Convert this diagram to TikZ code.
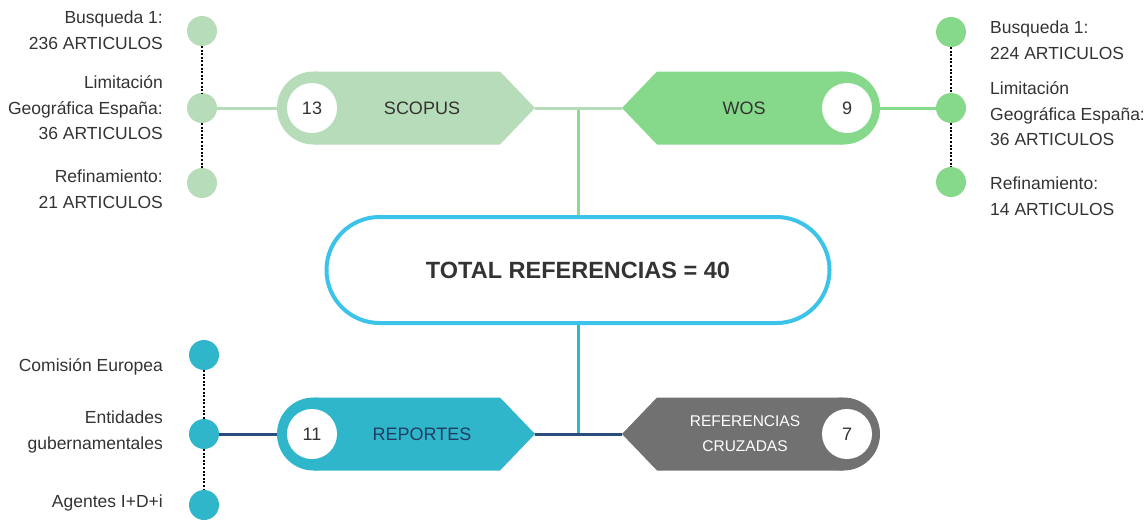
\documentclass[tikz,border=0pt]{standalone}
\usepackage{fontspec}
\setmainfont{Liberation Sans}
\usetikzlibrary{positioning,calc}
\definecolor{scopusgreen}{HTML}{B7DCB9}
\definecolor{wosgreen}{HTML}{86D98A}
\definecolor{linkgreen}{HTML}{8FD98F}
\definecolor{totalblue}{HTML}{3CC3E9}
\definecolor{repteal}{HTML}{2FB6CB}
\definecolor{navy}{HTML}{2A4C7C}
\definecolor{crossgray}{HTML}{717171}
\definecolor{txtgray}{HTML}{333333}

\begin{document}
\begin{tikzpicture}[x=1pt,y=-1pt,
  dot/.style={circle,inner sep=0pt,outer sep=0pt,minimum size=30pt},
  numdot/.style={circle,fill=white,inner sep=0pt,minimum size=50pt,text=txtgray,font=\fontsize{18}{20}\selectfont},
  boxlbl/.style={inner sep=0pt,font=\fontsize{18}{22}\selectfont},
  sidelbl/.style={inner sep=0pt,text=txtgray,font=\fontsize{17.5}{25.5}\selectfont},
  dotline/.style={black,line width=2pt,dash pattern=on 2pt off 1.6pt},
  link/.style={line width=3pt}]
\useasboundingbox (0,0) rectangle (1145,522);

% box outlines: rounded end + arrow tip
\foreach \y/\c in {108/scopusgreen,434/repteal}{
  \fill[\c] (313.5,\y) circle (36.5pt);
  \fill[\c] (313.5,\y-36.5) -- (500,\y-36.5) -- (535,\y) -- (500,\y+36.5) -- (313.5,\y+36.5) -- cycle;}
\foreach \y/\c in {108/wosgreen,434/crossgray}{
  \fill[\c] (843.5,\y) circle (36.5pt);
  \fill[\c] (843.5,\y-36.5) -- (657,\y-36.5) -- (622,\y) -- (657,\y+36.5) -- (843.5,\y+36.5) -- cycle;}

\coordinate (scopusL) at (277,108);
\coordinate (scopusR) at (535,108);
\coordinate (wosL) at (622,108);
\coordinate (wosR) at (880,108);
\coordinate (repL) at (277,434);
\coordinate (repR) at (535,434);
\coordinate (crossL) at (622,434);
\coordinate (joinTop) at (578,108);
\coordinate (joinBot) at (578,434);

\node[numdot] (n13) at (312,108) {13};
\node[numdot] (n9) at (847,108) {9};
\node[numdot] (n11) at (312,434) {11};
\node[numdot] (n7) at (847,434) {7};
\node[boxlbl,text=txtgray] (scopus) at (422,108) {SCOPUS};
\node[boxlbl,text=txtgray] (wos) at (744,108) {WOS};
\node[boxlbl,text=navy!80!black] (rep) at (422,434) {REPORTES};
\node[boxlbl,text=white,align=center,font=\fontsize{15.5}{25}\selectfont] (cross) at (745,434) {REFERENCIAS\\CRUZADAS};

% total
\draw[linkgreen,link] (joinTop) -- (578,217);
\draw[repteal,link] (578,323) -- (joinBot);
\node[draw=totalblue,line width=4pt,fill=white,rounded corners=53pt,minimum width=503pt,minimum height=106pt,
  font=\bfseries\fontsize{23.5}{26}\selectfont,text=txtgray] (total) at (578,270) {TOTAL REFERENCIAS = 40};

% side dots
\node[dot,fill=scopusgreen] (sc1) at (202,31) {};
\node[dot,fill=scopusgreen] (sc2) at (202,108) {};
\node[dot,fill=scopusgreen] (sc3) at (202,183) {};
\node[dot,fill=wosgreen] (wo1) at (951,32) {};
\node[dot,fill=wosgreen] (wo2) at (951,108) {};
\node[dot,fill=wosgreen] (wo3) at (951,182) {};
\node[dot,fill=repteal] (rp1) at (204,355) {};
\node[dot,fill=repteal] (rp2) at (204,434) {};
\node[dot,fill=repteal] (rp3) at (204,505) {};
\draw[dotline] (sc1) -- (sc2) (sc2) -- (sc3);
\draw[dotline] (wo1) -- (wo2) (wo2) -- (wo3);
\draw[dotline] (rp1) -- (rp2) (rp2) -- (rp3);

% connectors
\draw[scopusgreen,link] (sc2) -- (scopusL);
\draw[scopusgreen,link] (scopusR) -- (wosL);
\draw[wosgreen,link] (wosR) -- (wo2);
\draw[navy,link] (rp2) -- (repL);
\draw[navy,link] (repR) -- (crossL);

% labels
\node[sidelbl,anchor=east,align=right] (l1) at (163,30) {Busqueda 1:\\236 ARTICULOS};
\node[sidelbl,anchor=east,align=right] (l2) at (163,108) {Limitación\\Geográfica España:\\36 ARTICULOS};
\node[sidelbl,anchor=east,align=right] (l3) at (163,189) {Refinamiento:\\21 ARTICULOS};
\node[sidelbl,anchor=west,align=left] (r1) at (990,40) {Busqueda 1:\\224 ARTICULOS};
\node[sidelbl,anchor=west,align=left] (r2) at (990,114) {Limitación\\Geográfica España:\\36 ARTICULOS};
\node[sidelbl,anchor=west,align=left] (r3) at (990,196) {Refinamiento:\\14 ARTICULOS};
\node[sidelbl,anchor=east] (b1) at (163,367) {Comisión Europea};
\node[sidelbl,anchor=east,align=right] (b2) at (163,432) {Entidades\\gubernamentales};
\node[sidelbl,anchor=east] (b3) at (163,503) {Agentes I+D+i};
\end{tikzpicture}
\end{document}
